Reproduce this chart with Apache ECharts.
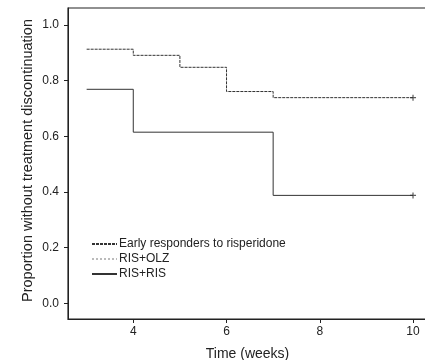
<!DOCTYPE html>
<html><head><meta charset="utf-8">
<script src="https://cdn.jsdelivr.net/npm/echarts@6/dist/echarts.min.js"></script>
<style>html,body{margin:0;padding:0;background:#fff}#c{width:425px;height:360px}</style>
</head><body><div id="c"></div>
<script>
const seriesNames = ['Early responders to risperidone', 'RIS+OLZ', 'RIS+RIS'];
const earlyTimes = [3, 4, 5, 6, 7, 10];
const earlyValues = [0.913, 0.891, 0.848, 0.761, 0.739, 0.739];
const olzTimes = [];
const olzValues = [];
const risTimes = [3, 4, 7, 10];
const risValues = [0.769, 0.615, 0.388, 0.388];
const censorEarly = [[10, 0.739]];
const censorRis = [[10, 0.388]];
const yTicks = [0, 0.2, 0.4, 0.6, 0.8, 1.0];
const xTicks = [4, 6, 8, 10];

const pairs = (t, v) => t.map((x, i) => [x, v[i]]);
const font = 'Liberation Sans, Arial, sans-serif';
const plus = 'path://M4,0H6V4H10V6H6V10H4V6H0V4H4Z';

const chart = echarts.init(document.getElementById('c'), null, {renderer: 'canvas'});
chart.setOption({
  animation: false,
  backgroundColor: '#fff',
  grid: {left: 68, top: 8, bottom: 41, right: -2, show: true, borderColor: '#222', borderWidth: 1.2,
    containLabel: false, outerBoundsMode: 'none'},
  legend: {
    orient: 'vertical', left: 91, top: 238, padding: 0, itemWidth: 25, itemHeight: 8, itemGap: 3,
    data: seriesNames,
    itemStyle: {opacity: 0},
    textStyle: {fontFamily: font, fontSize: 12, color: '#222', padding: [0, 0, 0, -3]}
  },
  xAxis: {
    type: 'value', min: 2.6, max: 10.3,
    name: 'Time (weeks)', nameLocation: 'middle', nameGap: 28, nameMoveOverlap: false,
    nameTextStyle: {fontFamily: font, fontSize: 14, color: '#222'},
    axisLine: {show: true, onZero: false, lineStyle: {color: '#222'}},
    axisTick: {show: true, length: 4, customValues: xTicks, lineStyle: {color: '#222'}},
    axisLabel: {customValues: xTicks, margin: 7, fontFamily: font, fontSize: 12, color: '#222'},
    splitLine: {show: false}
  },
  yAxis: {
    type: 'value', min: -0.056, max: 1.061,
    name: 'Proportion without treatment discontinuation', nameLocation: 'middle', nameGap: 33, nameMoveOverlap: false,
    nameTextStyle: {fontFamily: font, fontSize: 14.5, color: '#222', padding: [0, 0, 0, 6]},
    axisLine: {show: true, onZero: false, lineStyle: {color: '#222'}},
    axisTick: {show: true, length: 4, customValues: yTicks, lineStyle: {color: '#222'}},
    axisLabel: {customValues: yTicks, margin: 9, fontFamily: font, fontSize: 12, color: '#222',
      formatter: v => v.toFixed(1)},
    splitLine: {show: false}
  },
  series: [
    {name: seriesNames[0], type: 'line', step: 'end', symbol: 'none', data: pairs(earlyTimes, earlyValues),
      lineStyle: {color: '#333', width: 1, type: [3, 1]}, itemStyle: {color: '#333'}},
    {name: seriesNames[1], type: 'line', step: 'end', symbol: 'none', data: pairs(olzTimes, olzValues),
      lineStyle: {color: '#bbb', width: 1, type: [2, 2]}, itemStyle: {color: '#bbb'}},
    {name: seriesNames[2], type: 'line', step: 'end', symbol: 'none', data: pairs(risTimes, risValues),
      lineStyle: {color: '#333', width: 1}, itemStyle: {color: '#333'}},
    {type: 'scatter', symbol: plus, symbolSize: 6, data: censorEarly, itemStyle: {color: '#333'}},
    {type: 'scatter', symbol: plus, symbolSize: 6, data: censorRis, itemStyle: {color: '#333'}}
  ]
});
</script></body></html>
